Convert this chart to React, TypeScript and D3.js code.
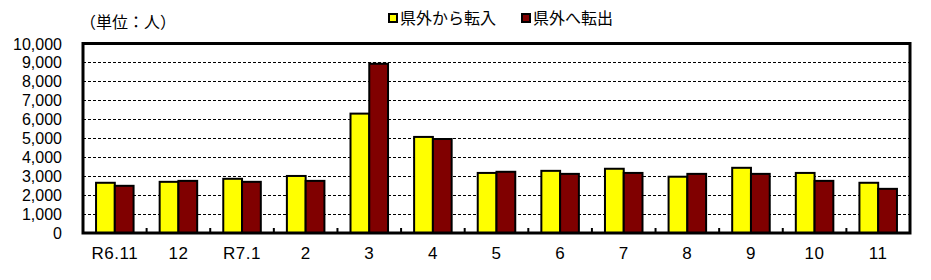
import React from "react";
import * as d3 from "d3";

const categories = ["R6.11", "12", "R7.1", "2", "3", "4", "5", "6", "7", "8", "9", "10", "11"];
const inflow = [2650, 2700, 2860, 3010, 6300, 5070, 3170, 3280, 3390, 2970, 3440, 3170, 2650];
const outflow = [2490, 2750, 2700, 2750, 8930, 4960, 3230, 3120, 3170, 3120, 3120, 2750, 2330];
const seriesNames = ["県外から転入", "県外へ転出"];
const seriesColors = ["#ffff00", "#800000"];
const yTicks = [0, 1000, 2000, 3000, 4000, 5000, 6000, 7000, 8000, 9000, 10000];
const unitLabel = "（単位：人）";

export default function App() {
  const W = 931, H = 280;
  const left = 83, right = 910, top = 43.5, bottom = 233;
  const x = d3.scaleBand<string>().domain(categories).range([left, right]).paddingInner(0).paddingOuter(0);
  const y = d3.scaleLinear().domain([0, 10000]).range([bottom, top]);
  const bw = x.bandwidth() * 0.295;
  const fmt = d3.format(",");
  const font = "'Noto Sans CJK JP', sans-serif";
  const series = [inflow, outflow];
  return (
    <svg width={W} height={H} style={{ position: "absolute", left: 0, top: 0, background: "#fff" }}>
      <text x={80} y={28} fontSize={16} fontFamily={font} fill="#000">{unitLabel}</text>
      {seriesNames.map((n, i) => {
        const lx = i === 0 ? 389 : 522;
        return (
          <g key={n}>
            <rect x={lx} y={14} width={8} height={8} fill={seriesColors[i]} stroke="#000" strokeWidth={2} />
            <text x={lx + 11} y={24} fontSize={16} fontFamily={font} fill="#000">{n}</text>
          </g>
        );
      })}
      {yTicks.filter(t => t > 0 && t < 10000).map(t => (
        <line key={t} x1={left} x2={right} y1={Math.round(y(t)) + 0.5} y2={Math.round(y(t)) + 0.5} stroke="#000" strokeWidth={1} strokeDasharray="3,2" />
      ))}
      {yTicks.map(t => (
        <text key={t} x={62} y={y(t) + 6} textAnchor="end" fontSize={16} fontFamily="'Liberation Sans', sans-serif" fill="#000">{fmt(t)}</text>
      ))}
      {categories.map((c, i) => {
        const cx = (x(c) as number) + x.bandwidth() / 2;
        return series.map((s, k) => (
          <rect key={c + k} x={cx - bw + k * bw} y={y(s[i])} width={bw} height={bottom - y(s[i])} fill={seriesColors[k]} stroke="#000" strokeWidth={2} />
        ));
      })}
      {categories.slice(1).map(c => (
        <line key={c} x1={x(c) as number} x2={x(c) as number} y1={bottom} y2={bottom - 5} stroke="#000" strokeWidth={2} />
      ))}
      {categories.map(c => (
        <text key={c} x={(x(c) as number) + x.bandwidth() / 2} y={259} textAnchor="middle" fontSize={17} letterSpacing={0.5} fontFamily="'Liberation Sans Narrow', 'Liberation Sans', sans-serif" fill="#000">{c}</text>
      ))}
      <rect x={left} y={top} width={right - left} height={bottom - top} fill="none" stroke="#000" strokeWidth={3} />
    </svg>
  );
}
